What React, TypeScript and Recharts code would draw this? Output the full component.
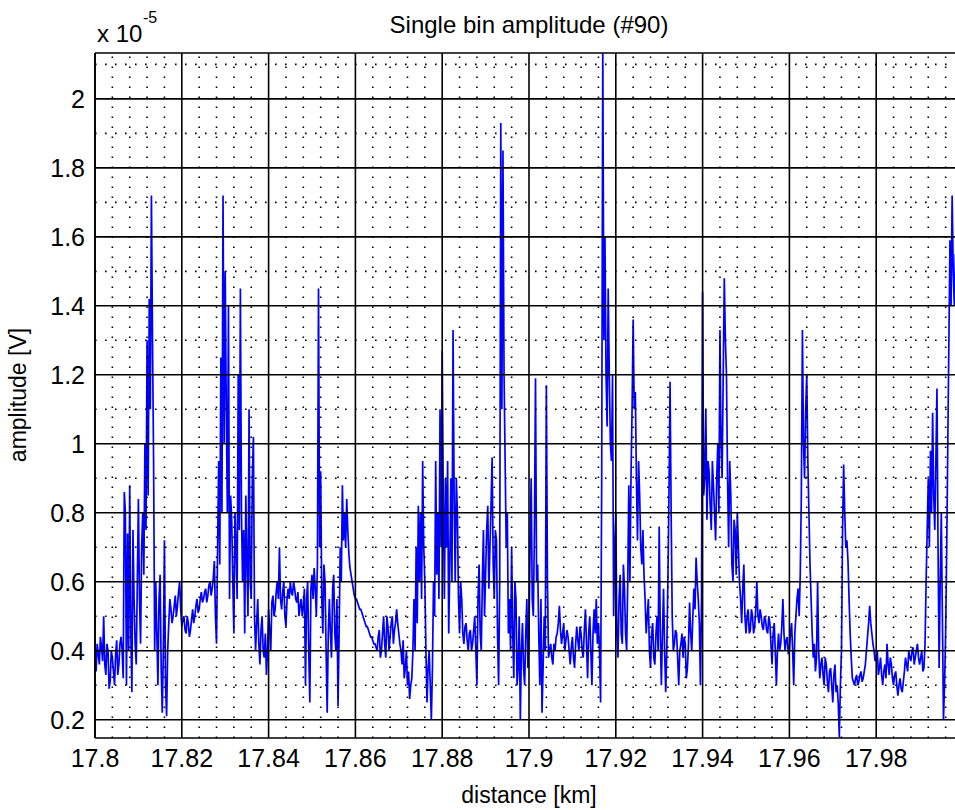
import {
  LineChart,
  Line,
  XAxis,
  YAxis,
  ReferenceLine,
} from "recharts";

// #region Data (amplitude in units of 1e-5 V)
const START_KM = 17.8;
const STEP_KM = 0.00025;

const amplitude = [
  0.38, 0.34, 0.42, 0.39, 0.36, 0.44, 0.41, 0.37, 0.5, 0.36,
  0.33, 0.42, 0.4, 0.29, 0.31, 0.4, 0.38, 0.34, 0.3, 0.39,
  0.43, 0.33, 0.36, 0.42, 0.44, 0.4, 0.32, 0.86, 0.8, 0.3,
  0.74, 0.4, 0.88, 0.45, 0.28, 0.75, 0.55, 0.42, 0.36, 0.6,
  0.84, 0.55, 0.42, 0.7, 0.8, 0.62, 1.0, 0.75, 1.3, 0.85,
  1.42, 1.1, 1.72, 1.3, 0.95, 0.4, 0.6, 0.45, 0.3, 0.55,
  0.62, 0.35, 0.22, 0.4, 0.72, 0.3, 0.21, 0.4, 0.48, 0.55,
  0.52, 0.48, 0.5, 0.53, 0.56, 0.5, 0.53, 0.57, 0.6, 0.52,
  0.47, 0.49, 0.5, 0.46, 0.45, 0.5, 0.48, 0.44, 0.46, 0.49,
  0.52, 0.48, 0.5, 0.53, 0.55, 0.51, 0.52, 0.55, 0.57, 0.54,
  0.55, 0.57, 0.58, 0.54, 0.56, 0.59, 0.6, 0.56, 0.58, 0.61,
  0.66, 0.5, 0.42, 0.7, 0.95, 0.65, 1.25, 0.8, 1.72, 1.0,
  1.5, 1.1, 0.8, 1.4, 0.55, 0.85, 0.78, 0.6, 0.45, 0.8,
  0.7, 0.55, 1.2, 0.75, 1.45, 0.8, 0.6, 0.75, 0.45, 0.85,
  0.65, 0.5, 1.1, 0.6, 0.55, 0.9, 1.02, 0.5, 0.4, 0.48,
  0.55, 0.42, 0.36, 0.46, 0.5, 0.4, 0.38, 0.45, 0.33, 0.4,
  0.52, 0.46, 0.4, 0.54, 0.56, 0.5, 0.52, 0.57, 0.6, 0.55,
  0.7, 0.55, 0.52, 0.57, 0.6, 0.5, 0.47, 0.55, 0.58, 0.55,
  0.6, 0.57, 0.56, 0.6, 0.58, 0.55, 0.54, 0.57, 0.5, 0.53,
  0.55, 0.5, 0.53, 0.58, 0.3, 0.55, 0.6, 0.4, 0.25, 0.58,
  0.62, 0.55, 0.64, 0.58, 0.5, 0.65, 1.45, 0.7, 0.92, 0.55,
  0.45, 0.65, 0.6, 0.4, 0.22, 0.45, 0.55, 0.45, 0.38, 0.58,
  0.62, 0.45, 0.4, 0.55, 0.24, 0.45, 0.7, 0.6, 0.88, 0.72,
  0.8, 0.7, 0.84, 0.75, 0.68, 0.64, 0.62, 0.6, 0.58, 0.56,
  0.55, 0.55, 0.54, 0.53, 0.52, 0.52, 0.51, 0.5, 0.49, 0.48,
  0.47, 0.47, 0.46, 0.45, 0.44, 0.44, 0.43, 0.42, 0.42, 0.41,
  0.4, 0.44, 0.46, 0.38, 0.4, 0.45, 0.5, 0.42, 0.38, 0.5,
  0.47, 0.4, 0.44, 0.48, 0.5, 0.42, 0.46, 0.48, 0.52, 0.48,
  0.45, 0.42, 0.4, 0.36, 0.43, 0.32, 0.35, 0.4, 0.3, 0.34,
  0.26, 0.3, 0.32, 0.4, 0.55, 0.4, 0.7, 0.48, 0.82, 0.6,
  0.8, 0.55, 0.95, 0.7, 0.6, 0.4, 0.25, 0.35, 0.4, 0.3,
  0.2, 0.35, 0.6, 0.5, 0.95, 0.62, 0.8, 0.55, 1.1, 0.7,
  1.27, 0.85, 0.55, 0.9, 0.7, 0.95, 0.45, 0.65, 0.9, 0.6,
  1.33, 0.85, 0.6, 0.9, 0.8, 0.55, 0.45, 0.6, 0.55, 0.45,
  0.42, 0.47, 0.48, 0.43, 0.4, 0.45, 0.46, 0.4, 0.42, 0.46,
  0.5, 0.4, 0.3, 0.55, 0.65, 0.45, 0.4, 0.6, 0.75, 0.5,
  0.62, 0.75, 0.82, 0.58, 0.7, 0.82, 0.96, 0.65, 0.55, 0.75,
  0.72, 0.45, 0.3, 0.6, 1.93, 1.1, 1.85, 1.2, 0.95, 0.7,
  0.8, 0.45, 0.55, 0.4, 0.7, 0.45, 0.32, 0.6, 0.55, 0.3,
  0.35, 0.5, 0.2, 0.4, 0.48, 0.35, 0.3, 0.45, 0.55, 0.35,
  0.45, 0.7, 0.9, 0.55, 0.5, 0.75, 1.19, 0.6, 0.65, 0.45,
  0.3, 0.55, 0.22, 0.35, 0.5, 0.4, 1.17, 0.6, 0.38, 0.4,
  0.42, 0.38, 0.36, 0.42, 0.4, 0.44, 0.45, 0.48, 0.53, 0.46,
  0.42, 0.45, 0.48, 0.4, 0.43, 0.46, 0.44, 0.4, 0.36, 0.41,
  0.44, 0.38, 0.35, 0.42, 0.47, 0.43, 0.4, 0.47, 0.45, 0.4,
  0.38, 0.46, 0.52, 0.42, 0.32, 0.45, 0.5, 0.4, 0.3, 0.45,
  0.52, 0.45, 0.55, 0.42, 0.48, 0.4, 0.25, 0.9, 2.15, 1.3,
  1.6, 1.2, 1.05, 1.45, 1.2, 1.0, 0.95, 1.2, 0.5, 0.7,
  0.8, 0.45, 0.38, 0.55, 0.62, 0.45, 0.42, 0.65, 0.58, 0.45,
  0.4, 0.6, 0.88, 0.6, 0.9, 1.1, 1.36, 1.1, 1.15, 0.9,
  0.72, 0.95, 0.85, 0.7, 0.65, 0.75, 0.62, 0.55, 0.45, 0.5,
  0.55, 0.4, 0.35, 0.45, 0.48, 0.38, 0.36, 0.45, 0.5, 0.4,
  0.76, 0.45, 0.3, 0.45, 0.58, 0.4, 0.28, 0.4, 0.6, 0.85,
  1.18, 0.8, 0.5, 0.4, 0.42, 0.46, 0.45, 0.38, 0.3, 0.4,
  0.42, 0.45, 0.38, 0.44, 0.42, 0.32, 0.35, 0.42, 0.54, 0.45,
  0.4, 0.5, 0.58, 0.52, 0.67, 0.6, 0.55, 0.48, 0.3, 0.55,
  1.44, 0.85, 0.9, 1.1, 0.78, 0.95, 0.92, 0.82, 0.75, 0.95,
  0.88, 0.8, 0.72, 0.9, 1.0, 0.8, 1.33, 1.0, 0.9, 1.2,
  1.48, 1.3, 1.2, 0.9, 0.7, 0.95, 0.85, 0.65, 0.6, 0.78,
  0.75, 0.62, 0.8, 0.7, 0.6, 0.55, 0.48, 0.58, 0.65, 0.5,
  0.45, 0.5, 0.52, 0.45, 0.46, 0.52, 0.5, 0.45, 0.47, 0.52,
  0.6, 0.5, 0.48, 0.52, 0.5, 0.47, 0.46, 0.5, 0.49, 0.46,
  0.45, 0.5, 0.48, 0.42, 0.36, 0.45, 0.48, 0.4, 0.3, 0.4,
  0.45, 0.4, 0.42, 0.47, 0.55, 0.45, 0.4, 0.43, 0.44, 0.39,
  0.4, 0.45, 0.48, 0.4, 0.3, 0.45, 0.5, 0.55, 0.58, 0.5,
  0.62, 0.85, 1.33, 1.0, 0.9, 1.1, 1.2, 0.95, 0.8, 0.65,
  0.55, 0.45, 0.38, 0.42, 0.34, 0.38, 0.6, 0.4, 0.32, 0.36,
  0.38, 0.33, 0.3, 0.38, 0.36, 0.31, 0.28, 0.34, 0.35, 0.3,
  0.25, 0.33, 0.36, 0.28, 0.3, 0.25, 0.15, 0.3, 0.4, 0.75,
  0.94, 0.8, 0.7, 0.72, 0.66, 0.55, 0.45, 0.38, 0.32, 0.31,
  0.3, 0.32, 0.33, 0.3, 0.31, 0.33, 0.34, 0.31, 0.32, 0.34,
  0.36, 0.4, 0.44, 0.48, 0.53, 0.48, 0.45, 0.42, 0.4, 0.37,
  0.38, 0.4, 0.33, 0.35, 0.38, 0.33, 0.3, 0.34, 0.36, 0.32,
  0.42, 0.36, 0.33, 0.38, 0.36, 0.32, 0.3, 0.33, 0.34, 0.3,
  0.27, 0.3, 0.32, 0.29, 0.28, 0.31, 0.34, 0.38, 0.36, 0.34,
  0.4, 0.38, 0.37, 0.4, 0.41, 0.36, 0.38, 0.4, 0.42, 0.38,
  0.36, 0.38, 0.4, 0.34, 0.35, 0.42, 0.6, 0.75, 0.9, 0.7,
  0.98, 0.8, 1.09, 0.85, 0.75, 0.95, 1.16, 0.7, 0.35, 0.6,
  0.8, 0.5, 0.2, 0.3, 0.45, 0.7, 1.0, 1.3, 1.59, 1.4,
  1.72, 1.5, 1.4, 1.55, 1.3, 1.45, 1.5, 1.35, 1.4, 1.5,
  1.45,
];

const distance = amplitude.map((_, i) => +(START_KM + i * STEP_KM).toFixed(5));

const xTicks = [17.8, 17.82, 17.84, 17.86, 17.88, 17.9, 17.92, 17.94, 17.96, 17.98];
const yTicks = [0.2, 0.4, 0.6, 0.8, 1, 1.2, 1.4, 1.6, 1.8, 2];
// #endregion

const data = distance.map((km, i) => ({ km, amp: amplitude[i] }));

const X_DOMAIN: [number, number] = [17.8, 18.0];
const Y_DOMAIN: [number, number] = [0.147, 2.133];

// dotted minor grid: 5 divisions per x tick, 2 per y tick
const xMinor: number[] = [];
for (let k = 1; k < 50; k++) if (k % 5 !== 0) xMinor.push(+(17.8 + k * 0.004).toFixed(3));
const yMinor: number[] = [];
for (let k = 3; k <= 21; k += 2) yMinor.push(+(k * 0.1).toFixed(1));

const FONT = "'Liberation Sans', Arial, sans-serif";
const fmt = (v: number) => String(+v.toFixed(2));

const App = () => {
  return (
    <div
      style={{
        position: "absolute",
        left: 0,
        top: 0,
        width: 955,
        height: 810,
        overflow: "hidden",
        background: "#fff",
      }}
    >
      <LineChart
        width={980}
        height={810}
        data={data}
        margin={{ top: 53, right: 17, bottom: 42, left: 0 }}
      >
        <XAxis
          dataKey="km"
          type="number"
          domain={X_DOMAIN}
          ticks={xTicks}
          allowDataOverflow
          tickFormatter={fmt}
          height={30}
          tickLine={false}
          tickSize={6}
          tickMargin={5}
          axisLine={{ stroke: "#000", strokeWidth: 1.7 }}
          tick={{ fill: "#000", fontSize: 25, fontFamily: FONT }}
        />
        <YAxis
          type="number"
          domain={Y_DOMAIN}
          ticks={yTicks}
          allowDataOverflow
          tickFormatter={fmt}
          width={95}
          tickLine={false}
          tickSize={6}
          tickMargin={4}
          axisLine={{ stroke: "#000", strokeWidth: 1.7 }}
          tick={{ fill: "#000", fontSize: 25, fontFamily: FONT }}
        />
        <Line
          type="linear"
          dataKey="amp"
          stroke="#0000ff"
          strokeWidth={1.7}
          dot={false}
          isAnimationActive={false}
        />
        {xMinor.map((v) => (
          <ReferenceLine key={"xm" + v} x={v} stroke="#000" strokeWidth={1.6} strokeDasharray="1.6 8.4" />
        ))}
        {yMinor.map((v) => (
          <ReferenceLine key={"ym" + v} y={v} stroke="#000" strokeWidth={1.6} strokeDasharray="1.6 8.4" />
        ))}
        {xTicks.map((v) => (
          <ReferenceLine key={"x" + v} x={v} stroke="#000" strokeWidth={1.6} />
        ))}
        {yTicks.map((v) => (
          <ReferenceLine key={"y" + v} y={v} stroke="#000" strokeWidth={1.6} />
        ))}
        <ReferenceLine y={Y_DOMAIN[1]} stroke="#000" strokeWidth={1.7} />
      </LineChart>
      <svg
        width={955}
        height={810}
        style={{ position: "absolute", left: 0, top: 0, pointerEvents: "none" }}
        fontFamily={FONT}
        fill="#000"
      >
        <text x={529} y={33} fontSize={24} textAnchor="middle">
          Single bin amplitude (#90)
        </text>
        <text x={97} y={42} fontSize={24}>
          x 10
        </text>
        <text x={143} y={23} fontSize={16}>
          -5
        </text>
        <text
          x={26}
          y={395}
          fontSize={23}
          textAnchor="middle"
          transform="rotate(-90 26 395)"
        >
          amplitude [V]
        </text>
        <text x={529} y={803} fontSize={23} textAnchor="middle">
          distance [km]
        </text>
      </svg>
    </div>
  );
};

export default App;
